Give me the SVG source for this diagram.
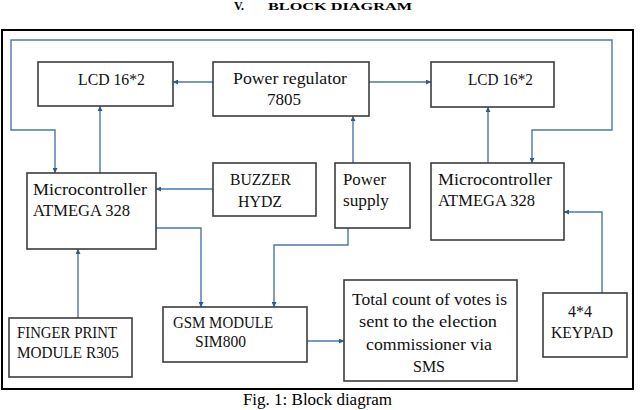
<svg xmlns="http://www.w3.org/2000/svg" width="642" height="410" viewBox="0 0 642 410">
<style>
  .box { fill: #ffffff; stroke: #3c3c3c; stroke-width: 1.6; }
  .t { font-family: "Liberation Serif", "Times New Roman", serif; font-size: 17px; fill: #111111; }
  .c { fill: none; stroke: #4a78a6; stroke-width: 1.4; marker-end: url(#ah); }
  .title { font-family: "Liberation Serif", "Times New Roman", serif; font-weight: bold; fill: #000; }
  .cap { font-family: "Liberation Serif", "Times New Roman", serif; font-size: 17px; fill: #000; }
</style>
<defs>
  <marker id="ah" viewBox="0 0 10 10" refX="10" refY="5" markerWidth="5" markerHeight="5" markerUnits="userSpaceOnUse" orient="auto-start-reverse">
    <path d="M0,0 L10,5 L0,10 z" fill="#2d5a87"/>
  </marker>
</defs>
<rect width="642" height="410" fill="#ffffff"/>
<text class="title" y="10"><tspan x="234" font-size="12">V.</tspan><tspan x="268" font-size="11" textLength="144" lengthAdjust="spacingAndGlyphs">BLOCK DIAGRAM</tspan></text>
<rect x="2" y="30" width="631" height="359" fill="none" stroke="#000" stroke-width="2"/>

<g id="connectors">
  <path class="c" style="marker-start:url(#ah)" d="M55,173 L55,130 L11,130 L11,40 L612,40 L612,130 L532,130 L532,163"/>
  <path class="c" d="M213,82 L173,82"/>
  <path class="c" d="M369,82 L431,82"/>
  <path class="c" d="M100,173 L100,106"/>
  <path class="c" d="M488,163 L488,107"/>
  <path class="c" d="M353,163 L353,116"/>
  <path class="c" d="M213,189 L156,189"/>
  <path class="c" d="M156,228 L201,228 L201,307"/>
  <path class="c" d="M348,228 L348,245 L274,245 L274,307"/>
  <path class="c" d="M78,318 L78,249"/>
  <path class="c" d="M602,293 L602,212 L564,212"/>
  <path class="c" d="M307,341 L344,341"/>
</g>

<g id="lcd-left">
  <rect class="box" x="38" y="62" width="135" height="44"/>
  <text class="t" x="78" y="85" textLength="67" lengthAdjust="spacingAndGlyphs">LCD 16*2</text>
</g>
<g id="power-regulator">
  <rect class="box" x="213" y="62" width="156" height="54"/>
  <text class="t" x="233" y="84" textLength="114" lengthAdjust="spacingAndGlyphs">Power regulator</text>
  <text class="t" x="267" y="105" textLength="34" lengthAdjust="spacingAndGlyphs">7805</text>
</g>
<g id="lcd-right">
  <rect class="box" x="431" y="62" width="123" height="45"/>
  <text class="t" x="468" y="85" textLength="65" lengthAdjust="spacingAndGlyphs">LCD 16*2</text>
</g>
<g id="micro-left">
  <rect class="box" x="27" y="173" width="129" height="76"/>
  <text class="t" x="33" y="195" textLength="114" lengthAdjust="spacingAndGlyphs">Microcontroller</text>
  <text class="t" x="33" y="216" textLength="97" lengthAdjust="spacingAndGlyphs">ATMEGA 328</text>
</g>
<g id="buzzer">
  <rect class="box" x="213" y="163" width="103" height="53"/>
  <text class="t" x="230" y="185" textLength="61" lengthAdjust="spacingAndGlyphs">BUZZER</text>
  <text class="t" x="238" y="207" textLength="44" lengthAdjust="spacingAndGlyphs">HYDZ</text>
</g>
<g id="power-supply">
  <rect class="box" x="335" y="163" width="75" height="65"/>
  <text class="t" x="343" y="185" textLength="43" lengthAdjust="spacingAndGlyphs">Power</text>
  <text class="t" x="343" y="206" textLength="46" lengthAdjust="spacingAndGlyphs">supply</text>
</g>
<g id="micro-right">
  <rect class="box" x="431" y="163" width="133" height="77"/>
  <text class="t" x="438" y="185" textLength="114" lengthAdjust="spacingAndGlyphs">Microcontroller</text>
  <text class="t" x="438" y="206" textLength="97" lengthAdjust="spacingAndGlyphs">ATMEGA 328</text>
</g>
<g id="fingerprint">
  <rect class="box" x="9" y="318" width="123" height="59"/>
  <text class="t" x="17" y="338" textLength="100" lengthAdjust="spacingAndGlyphs">FINGER PRINT</text>
  <text class="t" x="17" y="358" textLength="102" lengthAdjust="spacingAndGlyphs">MODULE  R305</text>
</g>
<g id="gsm">
  <rect class="box" x="163" y="307" width="144" height="55"/>
  <text class="t" x="173" y="328" textLength="100" lengthAdjust="spacingAndGlyphs">GSM MODULE</text>
  <text class="t" x="195" y="347" textLength="51" lengthAdjust="spacingAndGlyphs">SIM800</text>
</g>
<g id="total-count">
  <rect class="box" x="344" y="280" width="173" height="101"/>
  <text class="t" x="352" y="305" textLength="155" lengthAdjust="spacingAndGlyphs">Total count of votes is</text>
  <text class="t" x="359" y="327" textLength="138" lengthAdjust="spacingAndGlyphs">sent to the election</text>
  <text class="t" x="366" y="350" textLength="126" lengthAdjust="spacingAndGlyphs">commissioner via</text>
  <text class="t" x="413" y="372" textLength="32" lengthAdjust="spacingAndGlyphs">SMS</text>
</g>
<g id="keypad">
  <rect class="box" x="543" y="293" width="84" height="64"/>
  <text class="t" x="568" y="317" textLength="24" lengthAdjust="spacingAndGlyphs">4*4</text>
  <text class="t" x="551" y="338" textLength="62" lengthAdjust="spacingAndGlyphs">KEYPAD</text>
</g>

<text class="cap" x="317.5" y="405" text-anchor="middle">Fig. 1: Block diagram</text>
</svg>
